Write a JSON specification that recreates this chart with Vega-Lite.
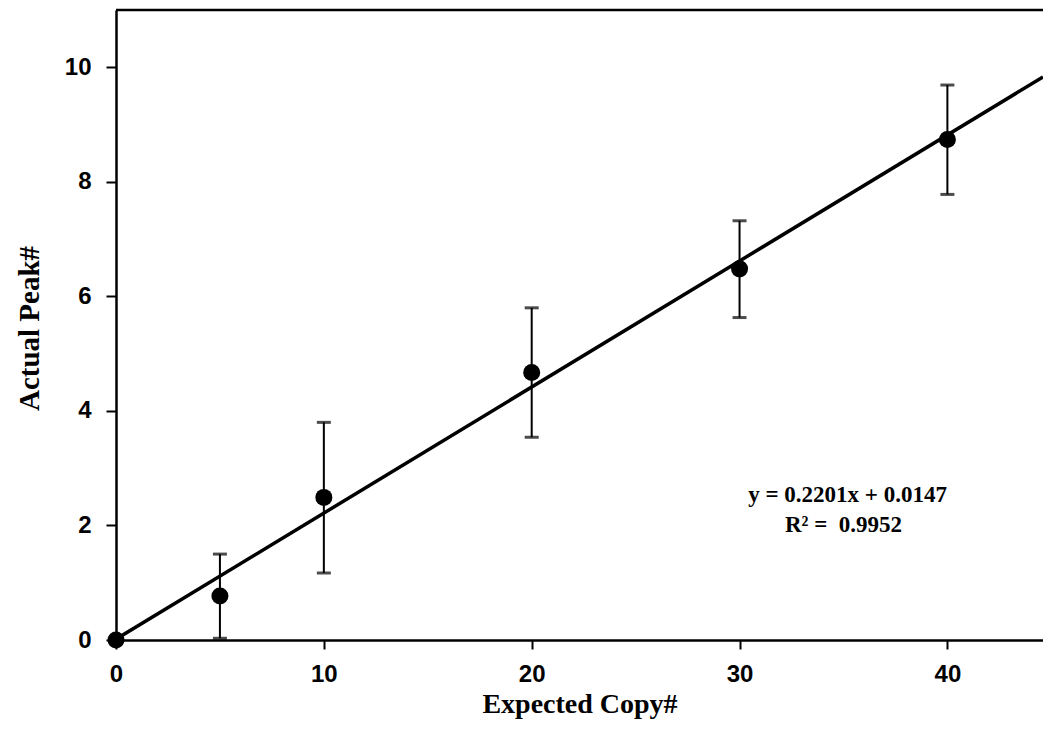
{
  "$schema": "https://vega.github.io/schema/vega-lite/v6.json",
  "width": 927,
  "height": 630,
  "autosize": {"type": "none"},
  "padding": {"left": 116, "top": 10, "right": 0, "bottom": 96},
  "background": "white",
  "config": {"view": {"stroke": null}},
  "datasets": {
    "points": [
      {"copy": 0, "peak": 0},
      {"copy": 5, "peak": 0.77, "lo": 0.03, "hi": 1.5},
      {"copy": 10, "peak": 2.49, "lo": 1.17, "hi": 3.8},
      {"copy": 20, "peak": 4.67, "lo": 3.54, "hi": 5.8},
      {"copy": 30, "peak": 6.48, "lo": 5.63, "hi": 7.32},
      {"copy": 40, "peak": 8.74, "lo": 7.78, "hi": 9.69}
    ],
    "fit": [
      {"copy": 0, "peak": 0.0147},
      {"copy": 44.6, "peak": 9.831}
    ]
  },
  "layer": [
    {
      "data": {"name": "fit"},
      "mark": {"type": "line", "color": "black", "strokeWidth": 3.5, "clip": true},
      "encoding": {
        "x": {
          "field": "copy", "type": "quantitative", "title": "Expected Copy#",
          "scale": {"domain": [0, 44.6], "nice": false},
          "axis": {
            "title": "Expected Copy#", "values": [0, 10, 20, 30, 40], "format": "d", "grid": false,
            "domainColor": "black", "domainWidth": 2.5, "tickColor": "black", "tickWidth": 2, "tickSize": 9,
            "labelFont": "Liberation Sans", "labelFontSize": 24, "labelFontWeight": "bold", "labelColor": "black",
            "labelPadding": 13, "labelFlush": false, "labelOverlap": false,
            "titleFont": "Liberation Serif", "titleFontSize": 28, "titleFontWeight": "bold", "titleColor": "black",
            "titleBaseline": "alphabetic", "titleY": 72
          }
        },
        "y": {
          "field": "peak", "type": "quantitative", "title": "Actual Peak#",
          "scale": {"domain": [0, 11], "nice": false},
          "axis": {
            "title": "Actual Peak#", "values": [0, 2, 4, 6, 8, 10], "format": "d", "grid": false,
            "domainColor": "black", "domainWidth": 2.5, "tickColor": "black", "tickWidth": 2, "tickSize": 10,
            "labelFont": "Liberation Sans", "labelFontSize": 24, "labelFontWeight": "bold", "labelColor": "black",
            "labelPadding": 15, "labelFlush": false, "labelOverlap": false,
            "titleFont": "Liberation Serif", "titleFontSize": 29, "titleFontWeight": "bold", "titleColor": "black",
            "titleX": -72, "titleY": 318
          }
        }
      }
    },
    {
      "data": {"name": "points"},
      "transform": [{"filter": "isValid(datum.hi)"}],
      "mark": {"type": "errorbar", "color": "black", "thickness": 2, "ticks": {"size": 14, "thickness": 3, "color": "black"}},
      "encoding": {
        "x": {"field": "copy", "type": "quantitative", "title": "Expected Copy#"},
        "y": {"field": "lo", "type": "quantitative", "title": "Actual Peak#"},
        "y2": {"field": "hi"}
      }
    },
    {
      "data": {"name": "points"},
      "mark": {"type": "circle", "color": "black", "opacity": 1, "size": 290},
      "encoding": {
        "x": {"field": "copy", "type": "quantitative", "title": "Expected Copy#"},
        "y": {"field": "peak", "type": "quantitative", "title": "Actual Peak#"}
      }
    },
    {
      "data": {"values": [{}]},
      "mark": {"type": "rule", "color": "black", "strokeWidth": 2.5},
      "encoding": {"y": {"datum": 11}}
    },
    {
      "data": {"values": [{}]},
      "mark": {"type": "text", "font": "Liberation Serif", "fontSize": 23, "fontWeight": "bold", "color": "black", "align": "center", "baseline": "alphabetic"},
      "encoding": {"x": {"datum": 35.2}, "y": {"datum": 2.41}, "text": {"value": "y = 0.2201x + 0.0147"}}
    },
    {
      "data": {"values": [{}]},
      "mark": {"type": "text", "font": "Liberation Serif", "fontSize": 23, "fontWeight": "bold", "color": "black", "align": "center", "baseline": "alphabetic"},
      "encoding": {"x": {"datum": 35.0}, "y": {"datum": 1.89}, "text": {"value": "R² = \u00a00.9952"}}
    }
  ]
}
